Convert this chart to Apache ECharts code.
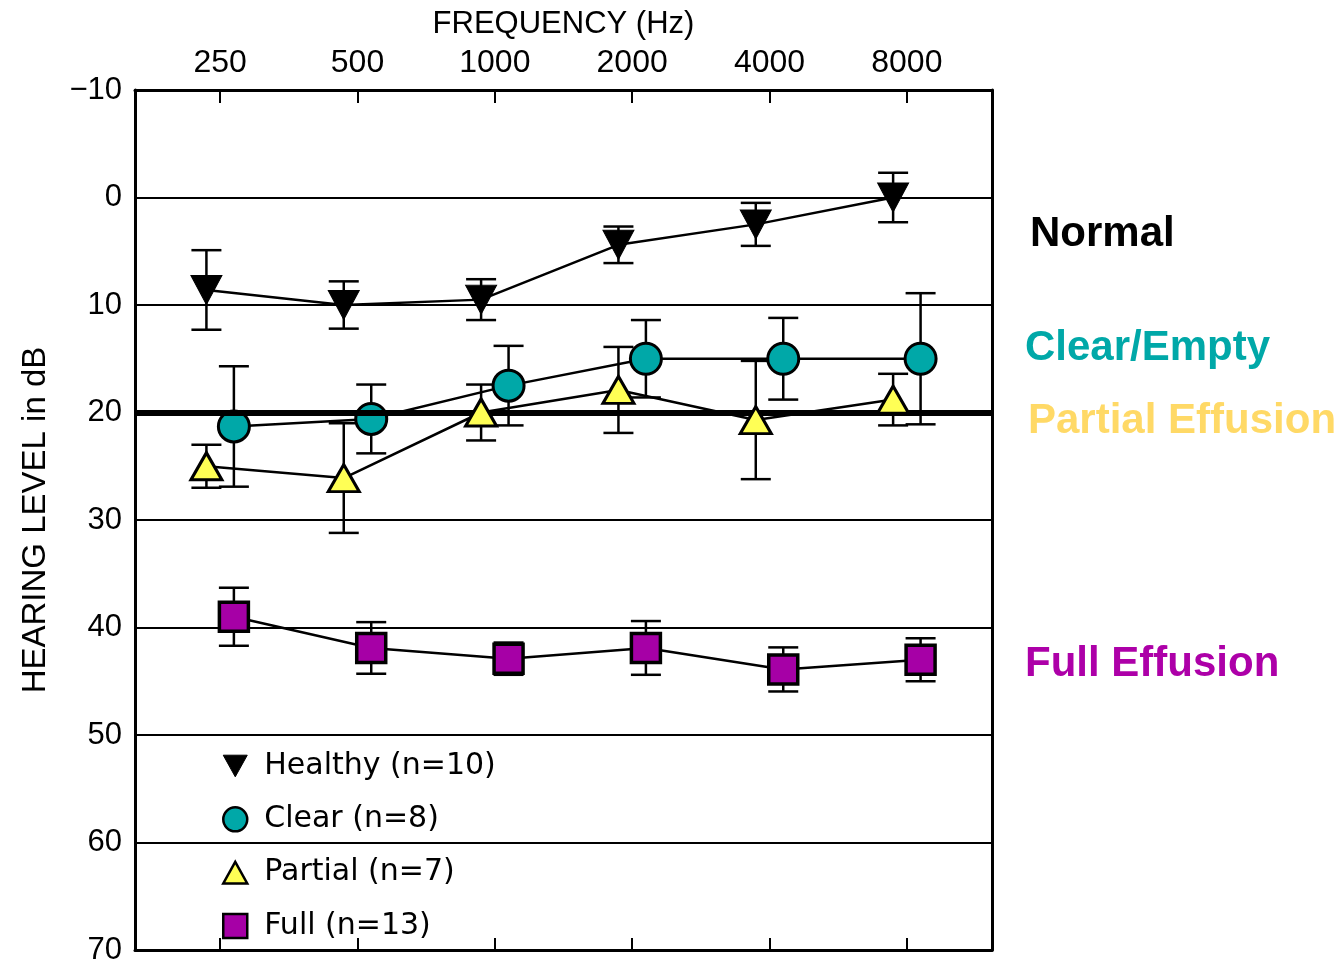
<!DOCTYPE html>
<html>
<head>
<meta charset="utf-8">
<script src="https://cdn.jsdelivr.net/npm/echarts@6/dist/echarts.min.js"></script>
<style>
html,body{margin:0;padding:0;background:#fff;}
#chart{width:1342px;height:961px;}
</style>
</head>
<body>
<div id="chart"></div>
<script>
const freqLabels = ['250', '500', '1000', '2000', '4000', '8000'];
const seriesNames = ['Healthy (n=10)', 'Clear (n=8)', 'Partial (n=7)', 'Full (n=13)'];
const healthyMean = [8.6, 10.0, 9.5, 4.4, 2.5, 0.0];
const healthyErr  = [3.7, 2.2, 1.9, 1.7, 2.0, 2.3];
const clearMean   = [21.3, 20.6, 17.5, 15.0, 15.0, 15.0];
const clearErr    = [5.6, 3.2, 3.7, 3.6, 3.8, 6.1];
const partialMean = [25.0, 26.1, 20.0, 17.9, 20.7, 18.8];
const partialErr  = [2.0, 5.1, 2.6, 4.0, 5.5, 2.4];
const fullMean    = [39.0, 41.9, 42.9, 41.9, 43.9, 43.0];
const fullErr     = [2.7, 2.4, 1.5, 2.5, 2.05, 2.0];
const yTicks = [-10, 0, 10, 20, 30, 40, 50, 60, 70];

const tickIdx = freqLabels.map((_, i) => i);
const SANS = '"Liberation Sans", Arial, sans-serif';

function pts(mean, off) { return mean.map((v, i) => [i + off, v]); }
function errs(mean, err, off) { return mean.map((v, i) => [i + off, v - err[i], v + err[i]]); }

function errorRender(params, api) {
  const x = api.value(0);
  const a = api.coord([x, api.value(1)]);
  const b = api.coord([x, api.value(2)]);
  const hw = 15;
  const st = { stroke: '#000', lineWidth: 2.5 };
  return {
    type: 'group',
    children: [
      { type: 'line', shape: { x1: a[0], y1: a[1], x2: b[0], y2: b[1] }, style: st },
      { type: 'line', shape: { x1: a[0] - hw, y1: a[1], x2: a[0] + hw, y2: a[1] }, style: st },
      { type: 'line', shape: { x1: b[0] - hw, y1: b[1], x2: b[0] + hw, y2: b[1] }, style: st }
    ]
  };
}

const groups = [
  { name: seriesNames[0], mean: healthyMean, err: healthyErr, off: -0.1, symbol: 'triangle', rot: 180, size: [31, 29], color: '#000', bw: 1 },
  { name: seriesNames[1], mean: clearMean, err: clearErr, off: 0.1, symbol: 'circle', rot: 0, size: 31, color: '#00a8a8', bw: 3 },
  { name: seriesNames[2], mean: partialMean, err: partialErr, off: -0.1, symbol: 'triangle', rot: 0, size: [31, 27], color: '#ffff55', bw: 3 },
  { name: seriesNames[3], mean: fullMean, err: fullErr, off: 0.1, symbol: 'rect', rot: 0, size: 29, color: '#a600a6', bw: 3.5 }
];

const series = [];
groups.forEach((g, k) => {
  series.push({
    name: 'err' + k, type: 'custom', renderItem: errorRender, silent: true,
    encode: { x: 0, y: [1, 2] }, data: errs(g.mean, g.err, g.off), z: 2
  });
});
groups.forEach((g, k) => {
  series.push({
    name: g.name, type: 'line', data: pts(g.mean, g.off), z: 3 + k,
    symbol: g.symbol, symbolRotate: g.rot, symbolSize: g.size, showAllSymbol: true,
    lineStyle: { color: '#000', width: 2.5 },
    itemStyle: { color: g.color, borderColor: '#000', borderWidth: g.bw },
    emphasis: { disabled: true }, silent: true
  });
});
series[4].markLine = {
  silent: true, symbol: 'none', label: { show: false },
  lineStyle: { color: '#000', width: 6, type: 'solid' },
  data: [{ yAxis: yTicks[3] }]
};

const chart = echarts.init(document.getElementById('chart'), null, { renderer: 'canvas' });
chart.setOption({
  animation: false,
  backgroundColor: '#fff',
  grid: { left: 135, right: 350, top: 90, bottom: 11, containLabel: false, outerBoundsMode: 'none' },
  xAxis: [
    {
      type: 'value', position: 'top', min: -0.62, max: 5.62,
      axisLine: { show: true, onZero: false, lineStyle: { color: '#000', width: 3 } },
      axisTick: { show: true, inside: true, length: 13, customValues: tickIdx, lineStyle: { color: '#000', width: 2 } },
      axisLabel: { show: true, customValues: tickIdx, formatter: v => freqLabels[Math.round(v)], color: '#000', fontFamily: SANS, fontSize: 32, margin: 11 },
      splitLine: { show: false },
      name: 'FREQUENCY (Hz)', nameLocation: 'middle', nameGap: 50,
      nameTextStyle: { color: '#000', fontFamily: SANS, fontSize: 31 }
    },
    {
      type: 'value', position: 'bottom', min: -0.62, max: 5.62,
      axisLine: { show: true, onZero: false, lineStyle: { color: '#000', width: 3 } },
      axisTick: { show: true, inside: true, length: 12, customValues: tickIdx, lineStyle: { color: '#000', width: 2 } },
      axisLabel: { show: false }, splitLine: { show: false }
    }
  ],
  yAxis: [
    {
      type: 'value', inverse: true, min: -10, max: 70, interval: 10, position: 'left',
      axisLine: { show: true, onZero: false, lineStyle: { color: '#000', width: 3 } },
      axisTick: { show: true, inside: true, length: 10, lineStyle: { color: '#000', width: 2 } },
      axisLabel: { color: '#000', fontFamily: SANS, fontSize: 31, margin: 13, formatter: v => v < 0 ? '\u2212' + (-v) : String(v) },
      splitLine: { show: true, lineStyle: { color: '#000', width: 2 } },
      name: 'HEARING LEVEL in dB', nameLocation: 'middle', nameGap: 83, nameRotate: 90,
      nameTextStyle: { color: '#000', fontFamily: SANS, fontSize: 33 }
    },
    {
      type: 'value', inverse: true, min: -10, max: 70, interval: 10, position: 'right',
      axisLine: { show: true, onZero: false, lineStyle: { color: '#000', width: 3 } },
      axisTick: { show: false }, axisLabel: { show: false }, splitLine: { show: false }
    }
  ],
  legend: {
    orient: 'vertical', left: 222, top: 751, padding: 0, itemWidth: 24, itemHeight: 24, itemGap: 23.3,
    selectedMode: false,
    textStyle: { color: '#000', fontFamily: '"DejaVu Sans", sans-serif', fontSize: 30, padding: [0, 0, 0, 12] },
    data: [
      { name: seriesNames[0], icon: 'path://M0,0L20,0L10,18Z', itemStyle: { color: '#000', borderColor: '#000', borderWidth: 1 } },
      { name: seriesNames[1], icon: 'circle', itemStyle: { color: '#00a8a8', borderColor: '#000', borderWidth: 2.5 } },
      { name: seriesNames[2], icon: 'path://M10,0L20,18L0,18Z', itemStyle: { color: '#ffff55', borderColor: '#000', borderWidth: 2.5 } },
      { name: seriesNames[3], icon: 'rect', itemStyle: { color: '#a600a6', borderColor: '#000', borderWidth: 2.5 } }
    ]
  },
  graphic: [
    { type: 'text', x: 1030, y: 234, style: { text: 'Normal', fill: '#000', font: 'bold 42px "Liberation Sans", Arial, sans-serif', verticalAlign: 'middle' } },
    { type: 'text', x: 1025, y: 348, style: { text: 'Clear/Empty', fill: '#00a8a8', font: 'bold 42px "Liberation Sans", Arial, sans-serif', verticalAlign: 'middle' } },
    { type: 'text', x: 1028, y: 421, style: { text: 'Partial Effusion', fill: '#ffd966', font: 'bold 42px "Liberation Sans", Arial, sans-serif', verticalAlign: 'middle' } },
    { type: 'text', x: 1025, y: 664, style: { text: 'Full Effusion', fill: '#ad00a8', font: 'bold 42px "Liberation Sans", Arial, sans-serif', verticalAlign: 'middle' } }
  ],
  series: series
});
</script>
</body>
</html>
